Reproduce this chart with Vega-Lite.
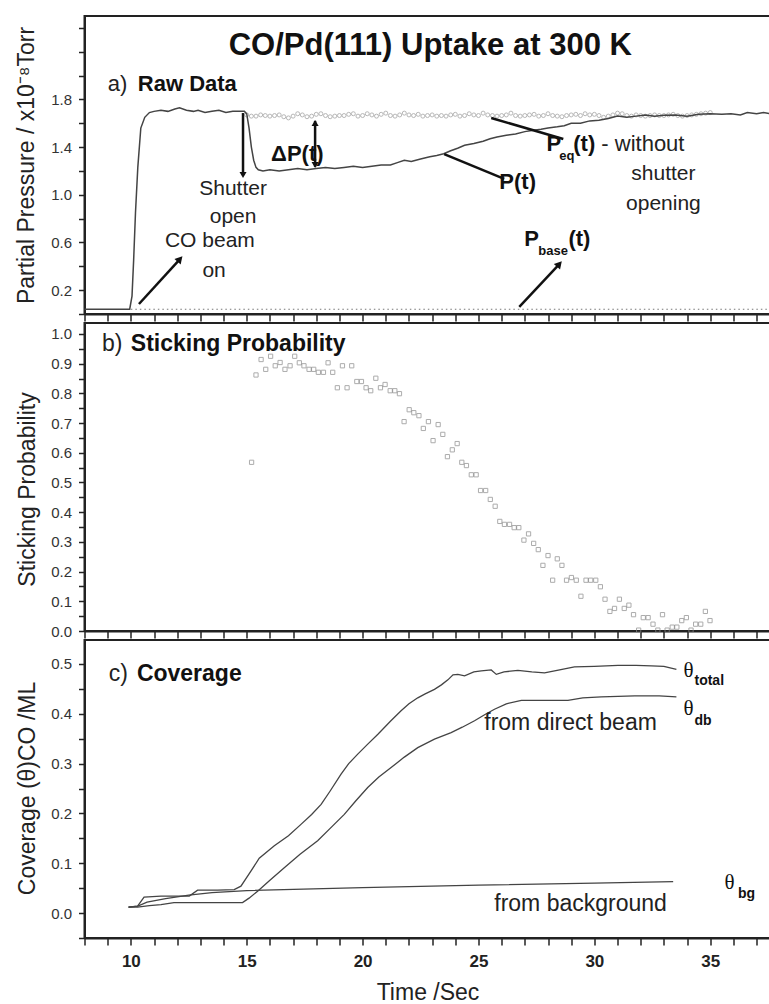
{
  "$schema": "https://vega.github.io/schema/vega-lite/v6.json",
  "padding": {"left": 13.5, "top": 15, "right": 0, "bottom": 0},
  "background": "white",
  "spacing": 9,
  "bounds": "flush",
  "config": {
    "font": "Liberation Sans",
    "view": {"stroke": "#222", "strokeWidth": 2},
    "axis": {
      "domainColor": "#222", "domainWidth": 2, "tickColor": "#222", "tickWidth": 1.5, "tickSize": 6,
      "labelFont": "Liberation Sans", "labelFontSize": 15, "labelColor": "#333", "labelPadding": 7,
      "titleFont": "Liberation Sans", "titleFontSize": 23, "titleFontWeight": "normal", "titleColor": "#222",
      "grid": false
    }
  },
  "resolve": {"scale": {"y": "independent"}},
  "datasets": {
    "pt": [
      {"t": 8.0, "p": 0.04}, {"t": 9.0, "p": 0.04}, {"t": 9.95, "p": 0.04}, {"t": 10.05, "p": 0.15}, {"t": 10.12, "p": 0.45},
      {"t": 10.2, "p": 0.85}, {"t": 10.3, "p": 1.23}, {"t": 10.43, "p": 1.56}, {"t": 10.6, "p": 1.65}, {"t": 10.8, "p": 1.69},
      {"t": 11.0, "p": 1.7}, {"t": 11.3, "p": 1.71}, {"t": 11.6, "p": 1.7}, {"t": 11.9, "p": 1.72}, {"t": 12.1, "p": 1.73},
      {"t": 12.4, "p": 1.71}, {"t": 12.7, "p": 1.7}, {"t": 12.9, "p": 1.71}, {"t": 13.2, "p": 1.69}, {"t": 13.5, "p": 1.7},
      {"t": 13.8, "p": 1.71}, {"t": 14.1, "p": 1.69}, {"t": 14.4, "p": 1.7}, {"t": 14.7, "p": 1.7}, {"t": 14.9, "p": 1.7},
      {"t": 15.0, "p": 1.68}, {"t": 15.1, "p": 1.56}, {"t": 15.2, "p": 1.4}, {"t": 15.3, "p": 1.29}, {"t": 15.4, "p": 1.23},
      {"t": 15.5, "p": 1.21}, {"t": 15.7, "p": 1.2}, {"t": 16.0, "p": 1.21}, {"t": 16.4, "p": 1.2}, {"t": 16.8, "p": 1.21},
      {"t": 17.2, "p": 1.22}, {"t": 17.6, "p": 1.21}, {"t": 18.0, "p": 1.22}, {"t": 18.4, "p": 1.23}, {"t": 18.8, "p": 1.22},
      {"t": 19.2, "p": 1.23}, {"t": 19.6, "p": 1.24}, {"t": 20.0, "p": 1.23}, {"t": 20.4, "p": 1.24}, {"t": 20.8, "p": 1.25},
      {"t": 21.2, "p": 1.25}, {"t": 21.5, "p": 1.27}, {"t": 21.8, "p": 1.29}, {"t": 22.1, "p": 1.28}, {"t": 22.5, "p": 1.3},
      {"t": 22.9, "p": 1.32}, {"t": 23.2, "p": 1.33}, {"t": 23.5, "p": 1.345}, {"t": 23.8, "p": 1.37}, {"t": 24.1, "p": 1.39},
      {"t": 24.4, "p": 1.415}, {"t": 24.8, "p": 1.43}, {"t": 25.2, "p": 1.45}, {"t": 25.5, "p": 1.47}, {"t": 25.8, "p": 1.485},
      {"t": 26.2, "p": 1.5}, {"t": 26.6, "p": 1.51}, {"t": 27.0, "p": 1.53}, {"t": 27.3, "p": 1.54}, {"t": 27.7, "p": 1.55},
      {"t": 28.0, "p": 1.56}, {"t": 28.4, "p": 1.57}, {"t": 28.7, "p": 1.58}, {"t": 29.0, "p": 1.6}, {"t": 29.4, "p": 1.6},
      {"t": 29.8, "p": 1.62}, {"t": 30.2, "p": 1.625}, {"t": 30.6, "p": 1.64}, {"t": 31.0, "p": 1.66}, {"t": 31.4, "p": 1.65},
      {"t": 31.8, "p": 1.66}, {"t": 32.2, "p": 1.67}, {"t": 32.6, "p": 1.66}, {"t": 33.0, "p": 1.667}, {"t": 33.5, "p": 1.67},
      {"t": 34.0, "p": 1.66}, {"t": 34.5, "p": 1.675}, {"t": 35.0, "p": 1.68}, {"t": 35.5, "p": 1.675}, {"t": 35.9, "p": 1.68},
      {"t": 36.3, "p": 1.67}, {"t": 36.6, "p": 1.69}, {"t": 37.0, "p": 1.68}, {"t": 37.3, "p": 1.69}, {"t": 37.6, "p": 1.68}
    ],
    "peq": [
      {"t": 15.0, "p": 1.67}, {"t": 15.2, "p": 1.66}, {"t": 15.4, "p": 1.66}, {"t": 15.6, "p": 1.67}, {"t": 15.8, "p": 1.665},
      {"t": 16.0, "p": 1.66}, {"t": 16.2, "p": 1.665}, {"t": 16.4, "p": 1.67}, {"t": 16.6, "p": 1.655}, {"t": 16.8, "p": 1.645},
      {"t": 17.0, "p": 1.66}, {"t": 17.2, "p": 1.68}, {"t": 17.4, "p": 1.67}, {"t": 17.6, "p": 1.655}, {"t": 17.8, "p": 1.66},
      {"t": 18.0, "p": 1.675}, {"t": 18.2, "p": 1.68}, {"t": 18.4, "p": 1.665}, {"t": 18.6, "p": 1.655}, {"t": 18.8, "p": 1.66},
      {"t": 19.0, "p": 1.665}, {"t": 19.2, "p": 1.665}, {"t": 19.4, "p": 1.675}, {"t": 19.6, "p": 1.68}, {"t": 19.8, "p": 1.66},
      {"t": 20.0, "p": 1.665}, {"t": 20.2, "p": 1.68}, {"t": 20.4, "p": 1.67}, {"t": 20.6, "p": 1.66}, {"t": 20.8, "p": 1.675},
      {"t": 21.0, "p": 1.685}, {"t": 21.2, "p": 1.665}, {"t": 21.4, "p": 1.66}, {"t": 21.6, "p": 1.67}, {"t": 21.8, "p": 1.685},
      {"t": 22.0, "p": 1.67}, {"t": 22.2, "p": 1.665}, {"t": 22.4, "p": 1.675}, {"t": 22.6, "p": 1.66}, {"t": 22.8, "p": 1.665},
      {"t": 23.0, "p": 1.67}, {"t": 23.2, "p": 1.66}, {"t": 23.4, "p": 1.665}, {"t": 23.6, "p": 1.66}, {"t": 23.8, "p": 1.67},
      {"t": 24.0, "p": 1.675}, {"t": 24.2, "p": 1.66}, {"t": 24.4, "p": 1.665}, {"t": 24.6, "p": 1.68}, {"t": 24.8, "p": 1.67},
      {"t": 25.0, "p": 1.665}, {"t": 25.2, "p": 1.685}, {"t": 25.4, "p": 1.67}, {"t": 25.6, "p": 1.665}, {"t": 25.8, "p": 1.66},
      {"t": 26.0, "p": 1.665}, {"t": 26.2, "p": 1.67}, {"t": 26.4, "p": 1.685}, {"t": 26.6, "p": 1.665}, {"t": 26.8, "p": 1.66},
      {"t": 27.0, "p": 1.665}, {"t": 27.2, "p": 1.67}, {"t": 27.4, "p": 1.675}, {"t": 27.6, "p": 1.66}, {"t": 27.8, "p": 1.665},
      {"t": 28.0, "p": 1.68}, {"t": 28.2, "p": 1.665}, {"t": 28.4, "p": 1.66}, {"t": 28.6, "p": 1.655}, {"t": 28.8, "p": 1.665},
      {"t": 29.0, "p": 1.67}, {"t": 29.2, "p": 1.675}, {"t": 29.4, "p": 1.665}, {"t": 29.6, "p": 1.68}, {"t": 29.8, "p": 1.67},
      {"t": 30.0, "p": 1.675}, {"t": 30.2, "p": 1.665}, {"t": 30.4, "p": 1.65}, {"t": 30.6, "p": 1.66}, {"t": 30.8, "p": 1.67},
      {"t": 31.0, "p": 1.685}, {"t": 31.2, "p": 1.68}, {"t": 31.4, "p": 1.665}, {"t": 31.6, "p": 1.66}, {"t": 31.8, "p": 1.67},
      {"t": 32.0, "p": 1.665}, {"t": 32.2, "p": 1.66}, {"t": 32.4, "p": 1.665}, {"t": 32.6, "p": 1.67}, {"t": 32.8, "p": 1.665},
      {"t": 33.0, "p": 1.665}, {"t": 33.2, "p": 1.67}, {"t": 33.4, "p": 1.675}, {"t": 33.6, "p": 1.665}, {"t": 33.8, "p": 1.66},
      {"t": 34.0, "p": 1.665}, {"t": 34.2, "p": 1.67}, {"t": 34.4, "p": 1.675}, {"t": 34.6, "p": 1.68}, {"t": 34.8, "p": 1.685},
      {"t": 35.0, "p": 1.69}
    ],
    "pbase": [{"t": 10.0, "p": 0.04}, {"t": 37.6, "p": 0.04}],
    "arrowsA": [
      {"t": 10.35, "p": 0.084, "t2": 12.12, "p2": 0.461},
      {"t": 14.84, "p": 1.686, "t2": 14.84, "p2": 1.17},
      {"t": 17.95, "p": 1.62, "t2": 17.95, "p2": 1.235},
      {"t": 25.55, "p": 1.644, "t2": 28.66, "p2": 1.468},
      {"t": 23.52, "p": 1.342, "t2": 26.11, "p2": 1.133},
      {"t": 26.76, "p": 0.06, "t2": 28.49, "p2": 0.419}
    ],
    "headDiag": [{"t": 12.12, "p": 0.461}, {"t": 28.49, "p": 0.419}],
    "headDown": [{"t": 14.84, "p": 1.166}, {"t": 17.95, "p": 1.25}],
    "headUp": [{"t": 17.95, "p": 1.602}],
    "textA_title": [{"t": 22.92, "p": 2.248, "label": "CO/Pd(111) Uptake at 300 K"}],
    "textA_normC": [
      {"t": 13.41, "p": 0.612, "label": "CO beam"},
      {"t": 13.59, "p": 0.361, "label": "on"},
      {"t": 14.41, "p": 1.052, "label": "Shutter"},
      {"t": 14.41, "p": 0.81, "label": "open"},
      {"t": 32.98, "p": 1.174, "label": "shutter"},
      {"t": 32.98, "p": 0.923, "label": "opening"}
    ],
    "textA_normL": [
      {"t": 9.0, "p": 1.93, "label": "a)"},
      {"t": 30.3, "p": 1.426, "label": "- without"}
    ],
    "textA_boldL": [
      {"t": 10.3, "p": 1.93, "label": "Raw Data"},
      {"t": 16.05, "p": 1.342, "label": "ΔP(t)"},
      {"t": 25.9, "p": 1.107, "label": "P(t)"},
      {"t": 27.93, "p": 1.426, "label": "P"},
      {"t": 29.09, "p": 1.426, "label": "(t)"},
      {"t": 26.98, "p": 0.629, "label": "P"},
      {"t": 28.88, "p": 0.629, "label": "(t)"}
    ],
    "textA_sub": [
      {"t": 28.49, "p": 1.326, "label": "eq"},
      {"t": 27.58, "p": 0.529, "label": "base"}
    ],
    "stick": [
      {"t": 15.21, "s": 0.568}, {"t": 15.4, "s": 0.862}, {"t": 15.62, "s": 0.914}, {"t": 15.82, "s": 0.881}, {"t": 16.03, "s": 0.925},
      {"t": 16.23, "s": 0.893}, {"t": 16.44, "s": 0.904}, {"t": 16.65, "s": 0.881}, {"t": 16.87, "s": 0.893}, {"t": 17.07, "s": 0.925},
      {"t": 17.27, "s": 0.903}, {"t": 17.47, "s": 0.893}, {"t": 17.69, "s": 0.881}, {"t": 17.89, "s": 0.881}, {"t": 18.09, "s": 0.871},
      {"t": 18.31, "s": 0.871}, {"t": 18.51, "s": 0.903}, {"t": 18.71, "s": 0.871}, {"t": 18.91, "s": 0.819}, {"t": 19.13, "s": 0.893},
      {"t": 19.33, "s": 0.819}, {"t": 19.53, "s": 0.893}, {"t": 19.75, "s": 0.84}, {"t": 19.95, "s": 0.84}, {"t": 20.15, "s": 0.819},
      {"t": 20.35, "s": 0.809}, {"t": 20.57, "s": 0.851}, {"t": 20.77, "s": 0.819}, {"t": 20.97, "s": 0.83}, {"t": 21.19, "s": 0.809},
      {"t": 21.39, "s": 0.809}, {"t": 21.59, "s": 0.799}, {"t": 21.79, "s": 0.705}, {"t": 22.01, "s": 0.745}, {"t": 22.21, "s": 0.735},
      {"t": 22.43, "s": 0.725}, {"t": 22.62, "s": 0.682}, {"t": 22.84, "s": 0.705}, {"t": 23.04, "s": 0.641}, {"t": 23.26, "s": 0.695},
      {"t": 23.46, "s": 0.662}, {"t": 23.66, "s": 0.587}, {"t": 23.87, "s": 0.61}, {"t": 24.08, "s": 0.631}, {"t": 24.28, "s": 0.568},
      {"t": 24.48, "s": 0.557}, {"t": 24.69, "s": 0.526}, {"t": 24.9, "s": 0.526}, {"t": 25.09, "s": 0.473}, {"t": 25.31, "s": 0.473},
      {"t": 25.51, "s": 0.443}, {"t": 25.72, "s": 0.42}, {"t": 25.92, "s": 0.369}, {"t": 26.12, "s": 0.359}, {"t": 26.34, "s": 0.359},
      {"t": 26.54, "s": 0.348}, {"t": 26.74, "s": 0.348}, {"t": 26.96, "s": 0.306}, {"t": 27.16, "s": 0.327}, {"t": 27.38, "s": 0.295},
      {"t": 27.58, "s": 0.274}, {"t": 27.78, "s": 0.221}, {"t": 28.0, "s": 0.254}, {"t": 28.2, "s": 0.171}, {"t": 28.4, "s": 0.243},
      {"t": 28.6, "s": 0.221}, {"t": 28.8, "s": 0.171}, {"t": 29.01, "s": 0.18}, {"t": 29.22, "s": 0.171}, {"t": 29.42, "s": 0.117},
      {"t": 29.64, "s": 0.171}, {"t": 29.84, "s": 0.171}, {"t": 30.06, "s": 0.171}, {"t": 30.26, "s": 0.149}, {"t": 30.46, "s": 0.107},
      {"t": 30.67, "s": 0.066}, {"t": 30.87, "s": 0.076}, {"t": 31.08, "s": 0.107}, {"t": 31.29, "s": 0.076}, {"t": 31.49, "s": 0.087},
      {"t": 31.69, "s": 0.055}, {"t": 31.91, "s": 0.003}, {"t": 32.11, "s": 0.045}, {"t": 32.32, "s": 0.045}, {"t": 32.53, "s": 0.023},
      {"t": 32.74, "s": 0.003}, {"t": 32.94, "s": 0.055}, {"t": 33.14, "s": 0.003}, {"t": 33.36, "s": 0.013}, {"t": 33.56, "s": 0.013},
      {"t": 33.77, "s": 0.035}, {"t": 33.97, "s": 0.045}, {"t": 34.17, "s": 0.003}, {"t": 34.37, "s": 0.023}, {"t": 34.59, "s": 0.023},
      {"t": 34.79, "s": 0.066}, {"t": 34.99, "s": 0.035}
    ],
    "textB_norm": [{"t": 8.75, "s": 0.966, "label": "b)"}],
    "textB_bold": [{"t": 10.0, "s": 0.966, "label": "Sticking Probability"}],
    "cov": [
      {"series": "total", "t": 9.9, "c": 0.012}, {"series": "total", "t": 10.29, "c": 0.014}, {"series": "total", "t": 10.57, "c": 0.032},
      {"series": "total", "t": 11.3, "c": 0.034}, {"series": "total", "t": 12.0, "c": 0.034}, {"series": "total", "t": 12.52, "c": 0.034},
      {"series": "total", "t": 12.88, "c": 0.046}, {"series": "total", "t": 13.74, "c": 0.046}, {"series": "total", "t": 14.46, "c": 0.047},
      {"series": "total", "t": 14.75, "c": 0.054}, {"series": "total", "t": 15.18, "c": 0.084}, {"series": "total", "t": 15.54, "c": 0.11},
      {"series": "total", "t": 16.19, "c": 0.135}, {"series": "total", "t": 16.8, "c": 0.155}, {"series": "total", "t": 17.34, "c": 0.178},
      {"series": "total", "t": 17.8, "c": 0.198}, {"series": "total", "t": 18.21, "c": 0.218}, {"series": "total", "t": 18.6, "c": 0.245},
      {"series": "total", "t": 19.07, "c": 0.279}, {"series": "total", "t": 19.4, "c": 0.3}, {"series": "total", "t": 19.79, "c": 0.319},
      {"series": "total", "t": 20.2, "c": 0.338}, {"series": "total", "t": 20.66, "c": 0.359}, {"series": "total", "t": 21.2, "c": 0.385},
      {"series": "total", "t": 21.66, "c": 0.406}, {"series": "total", "t": 22.0, "c": 0.42}, {"series": "total", "t": 22.38, "c": 0.432},
      {"series": "total", "t": 22.7, "c": 0.44}, {"series": "total", "t": 23.1, "c": 0.449}, {"series": "total", "t": 23.4, "c": 0.458},
      {"series": "total", "t": 23.68, "c": 0.468}, {"series": "total", "t": 23.9, "c": 0.478}, {"series": "total", "t": 24.11, "c": 0.479},
      {"series": "total", "t": 24.4, "c": 0.476}, {"series": "total", "t": 24.8, "c": 0.484}, {"series": "total", "t": 25.12, "c": 0.486},
      {"series": "total", "t": 25.55, "c": 0.488}, {"series": "total", "t": 25.77, "c": 0.479}, {"series": "total", "t": 26.1, "c": 0.484},
      {"series": "total", "t": 26.7, "c": 0.487}, {"series": "total", "t": 27.3, "c": 0.484}, {"series": "total", "t": 27.85, "c": 0.482},
      {"series": "total", "t": 28.5, "c": 0.488}, {"series": "total", "t": 29.14, "c": 0.494}, {"series": "total", "t": 30.0, "c": 0.495},
      {"series": "total", "t": 31.02, "c": 0.497}, {"series": "total", "t": 31.8, "c": 0.497}, {"series": "total", "t": 32.46, "c": 0.496},
      {"series": "total", "t": 33.0, "c": 0.495}, {"series": "total", "t": 33.54, "c": 0.489},
      {"series": "db", "t": 9.9, "c": 0.012}, {"series": "db", "t": 10.29, "c": 0.012}, {"series": "db", "t": 10.8, "c": 0.015},
      {"series": "db", "t": 11.3, "c": 0.017}, {"series": "db", "t": 11.86, "c": 0.021}, {"series": "db", "t": 13.0, "c": 0.021},
      {"series": "db", "t": 14.0, "c": 0.021}, {"series": "db", "t": 14.82, "c": 0.021}, {"series": "db", "t": 15.1, "c": 0.03},
      {"series": "db", "t": 15.47, "c": 0.044}, {"series": "db", "t": 16.0, "c": 0.066}, {"series": "db", "t": 16.62, "c": 0.091},
      {"series": "db", "t": 17.3, "c": 0.118}, {"series": "db", "t": 18.06, "c": 0.145}, {"series": "db", "t": 18.6, "c": 0.17},
      {"series": "db", "t": 19.21, "c": 0.198}, {"series": "db", "t": 19.7, "c": 0.225}, {"series": "db", "t": 20.22, "c": 0.252},
      {"series": "db", "t": 20.7, "c": 0.273}, {"series": "db", "t": 21.23, "c": 0.292}, {"series": "db", "t": 21.8, "c": 0.313},
      {"series": "db", "t": 22.38, "c": 0.332}, {"series": "db", "t": 23.1, "c": 0.349}, {"series": "db", "t": 23.82, "c": 0.362},
      {"series": "db", "t": 24.3, "c": 0.373}, {"series": "db", "t": 24.83, "c": 0.386}, {"series": "db", "t": 25.3, "c": 0.399},
      {"series": "db", "t": 25.69, "c": 0.409}, {"series": "db", "t": 26.2, "c": 0.42}, {"series": "db", "t": 26.85, "c": 0.427},
      {"series": "db", "t": 27.8, "c": 0.427}, {"series": "db", "t": 28.86, "c": 0.427}, {"series": "db", "t": 29.5, "c": 0.432},
      {"series": "db", "t": 30.3, "c": 0.434}, {"series": "db", "t": 31.74, "c": 0.436}, {"series": "db", "t": 32.8, "c": 0.436},
      {"series": "db", "t": 33.54, "c": 0.434},
      {"series": "bg", "t": 9.9, "c": 0.012}, {"series": "bg", "t": 10.3, "c": 0.014}, {"series": "bg", "t": 10.7, "c": 0.022},
      {"series": "bg", "t": 11.5, "c": 0.029}, {"series": "bg", "t": 12.5, "c": 0.036}, {"series": "bg", "t": 13.5, "c": 0.041},
      {"series": "bg", "t": 15.0, "c": 0.045}, {"series": "bg", "t": 20.0, "c": 0.051}, {"series": "bg", "t": 25.0, "c": 0.056},
      {"series": "bg", "t": 30.0, "c": 0.06}, {"series": "bg", "t": 33.4, "c": 0.063}
    ],
    "textC_norm": [
      {"t": 9.05, "c": 0.48, "label": "c)"},
      {"t": 25.25, "c": 0.381, "label": "from direct beam"},
      {"t": 25.68, "c": 0.018, "label": "from background"}
    ],
    "textC_bold": [{"t": 10.26, "c": 0.48, "label": "Coverage"}],
    "textC_theta": [
      {"t": 33.85, "c": 0.486, "label": "θ"},
      {"t": 33.85, "c": 0.41, "label": "θ"},
      {"t": 35.62, "c": 0.06, "label": "θ"}
    ],
    "textC_sub": [
      {"t": 34.32, "c": 0.466, "label": "total"},
      {"t": 34.32, "c": 0.385, "label": "db"},
      {"t": 36.2, "c": 0.038, "label": "bg"}
    ]
  },
  "vconcat": [
    {
      "width": 686, "height": 298,
      "encoding": {
        "x": {"field": "t", "type": "quantitative", "scale": {"domain": [8, 37.6], "nice": false, "zero": false},
              "axis": {"title": null, "labels": false, "tickSize": 7, "values": [8,9,10,11,12,13,14,15,16,17,18,19,20,21,22,23,24,25,26,27,28,29,30,31,32,33,34,35,36,37]}},
        "y": {"field": "p", "type": "quantitative", "scale": {"domain": [0, 2.5], "nice": false, "zero": false},
              "axis": {"title": "Partial Pressure / x10⁻⁸Torr", "titleX": -51, "titleY": 149, "titleBaseline": "alphabetic", "titleAngle": 270,
                       "format": ".1f", "values": [0,0.2,0.4,0.6,0.8,1.0,1.2,1.4,1.6,1.8,2.0,2.2,2.4],
                       "labelExpr": "indexof(['0.2','0.6','1.0','1.4','1.8'], datum.label) >= 0 ? datum.label : ''"}}
      },
      "layer": [
        {"data": {"name": "pbase"}, "mark": {"type": "line", "color": "#777", "strokeWidth": 1.2, "strokeDash": [1.5, 3]}, "encoding": {}},
        {"data": {"name": "peq"}, "mark": {"type": "point", "shape": "circle", "filled": false, "color": "#999", "size": 16, "strokeWidth": 1}},
        {"data": {"name": "pt"}, "mark": {"type": "line", "color": "#444", "strokeWidth": 1.5}, "encoding": {}},
        {"data": {"name": "arrowsA"}, "mark": {"type": "rule", "color": "#111", "strokeWidth": 2.5}, "encoding": {"x2": {"field": "t2"}, "y2": {"field": "p2"}}},
        {"data": {"name": "headDiag"}, "mark": {"type": "point", "shape": "triangle-up", "filled": true, "color": "#111", "size": 70, "angle": 42, "opacity": 1}},
        {"data": {"name": "headDown"}, "mark": {"type": "point", "shape": "triangle-down", "filled": true, "color": "#111", "size": 50, "opacity": 1}},
        {"data": {"name": "headUp"}, "mark": {"type": "point", "shape": "triangle-up", "filled": true, "color": "#111", "size": 50, "opacity": 1}},
        {"data": {"name": "textA_title"}, "mark": {"type": "text", "align": "center", "baseline": "middle", "fontSize": 31, "fontWeight": "bold", "color": "#111"}, "encoding": {"text": {"field": "label"}}},
        {"data": {"name": "textA_normC"}, "mark": {"type": "text", "align": "center", "baseline": "middle", "fontSize": 21, "color": "#222"}, "encoding": {"text": {"field": "label"}}},
        {"data": {"name": "textA_normL"}, "mark": {"type": "text", "align": "left", "baseline": "middle", "fontSize": 22, "color": "#222"}, "encoding": {"text": {"field": "label"}}},
        {"data": {"name": "textA_boldL"}, "mark": {"type": "text", "align": "left", "baseline": "middle", "fontSize": 22, "fontWeight": "bold", "color": "#111"}, "encoding": {"text": {"field": "label"}}},
        {"data": {"name": "textA_sub"}, "mark": {"type": "text", "align": "left", "baseline": "middle", "fontSize": 13, "fontWeight": "bold", "color": "#111"}, "encoding": {"text": {"field": "label"}}}
      ]
    },
    {
      "width": 686, "height": 308,
      "encoding": {
        "x": {"field": "t", "type": "quantitative", "scale": {"domain": [8, 37.6], "nice": false, "zero": false},
              "axis": {"title": null, "labels": false, "tickSize": 7, "values": [8,9,10,11,12,13,14,15,16,17,18,19,20,21,22,23,24,25,26,27,28,29,30,31,32,33,34,35,36,37]}},
        "y": {"field": "s", "type": "quantitative", "scale": {"domain": [0, 1.037], "nice": false, "zero": false},
              "axis": {"title": "Sticking Probability", "titleX": -50, "titleY": 166, "titleBaseline": "alphabetic", "titleAngle": 270,
                       "format": ".1f", "values": [0,0.05,0.1,0.15,0.2,0.25,0.3,0.35,0.4,0.45,0.5,0.55,0.6,0.65,0.7,0.75,0.8,0.85,0.9,0.95,1.0],
                       "labelExpr": "round(datum.value*100) % 10 == 0 ? datum.label : ''"}}
      },
      "layer": [
        {"data": {"name": "stick"}, "mark": {"type": "point", "shape": "square", "filled": false, "color": "#8a8a8a", "size": 18, "strokeWidth": 1}},
        {"data": {"name": "textB_norm"}, "mark": {"type": "text", "align": "left", "baseline": "middle", "fontSize": 23, "color": "#222"}, "encoding": {"text": {"field": "label"}}},
        {"data": {"name": "textB_bold"}, "mark": {"type": "text", "align": "left", "baseline": "middle", "fontSize": 23, "fontWeight": "bold", "color": "#111"}, "encoding": {"text": {"field": "label"}}}
      ]
    },
    {
      "width": 686, "height": 298,
      "encoding": {
        "x": {"field": "t", "type": "quantitative", "scale": {"domain": [8, 37.6], "nice": false, "zero": false},
              "axis": {"title": "Time /Sec", "titleFontSize": 23, "titleBaseline": "alphabetic", "titleY": 61, "tickSize": 7,
                       "labelBaseline": "alphabetic", "labelPadding": 21, "labelFontSize": 17, "labelFontWeight": "bold", "labelColor": "#222",
                       "values": [8,9,10,11,12,13,14,15,16,17,18,19,20,21,22,23,24,25,26,27,28,29,30,31,32,33,34,35,36,37],
                       "labelExpr": "datum.value % 5 == 0 ? datum.label : ''"}},
        "y": {"field": "c", "type": "quantitative", "scale": {"domain": [-0.05, 0.548], "nice": false, "zero": false},
              "axis": {"title": "Coverage (θ)CO /ML", "titleX": -50, "titleY": 148, "titleBaseline": "alphabetic", "titleAngle": 270,
                       "format": ".1f", "values": [-0.05,0,0.05,0.1,0.15,0.2,0.25,0.3,0.35,0.4,0.45,0.5],
                       "labelExpr": "abs(round(datum.value*100)) % 10 == 0 ? datum.label : ''"}}
      },
      "layer": [
        {"data": {"name": "cov"}, "mark": {"type": "line", "color": "#444", "strokeWidth": 1.3}, "encoding": {"detail": {"field": "series"}}},
        {"data": {"name": "textC_norm"}, "mark": {"type": "text", "align": "left", "baseline": "middle", "fontSize": 23, "color": "#222"}, "encoding": {"text": {"field": "label"}}},
        {"data": {"name": "textC_bold"}, "mark": {"type": "text", "align": "left", "baseline": "middle", "fontSize": 23, "fontWeight": "bold", "color": "#111"}, "encoding": {"text": {"field": "label"}}},
        {"data": {"name": "textC_theta"}, "mark": {"type": "text", "align": "left", "baseline": "middle", "fontSize": 21, "font": "Liberation Serif", "color": "#111"}, "encoding": {"text": {"field": "label"}}},
        {"data": {"name": "textC_sub"}, "mark": {"type": "text", "align": "left", "baseline": "middle", "fontSize": 14, "fontWeight": "bold", "color": "#111"}, "encoding": {"text": {"field": "label"}}}
      ]
    }
  ]
}
